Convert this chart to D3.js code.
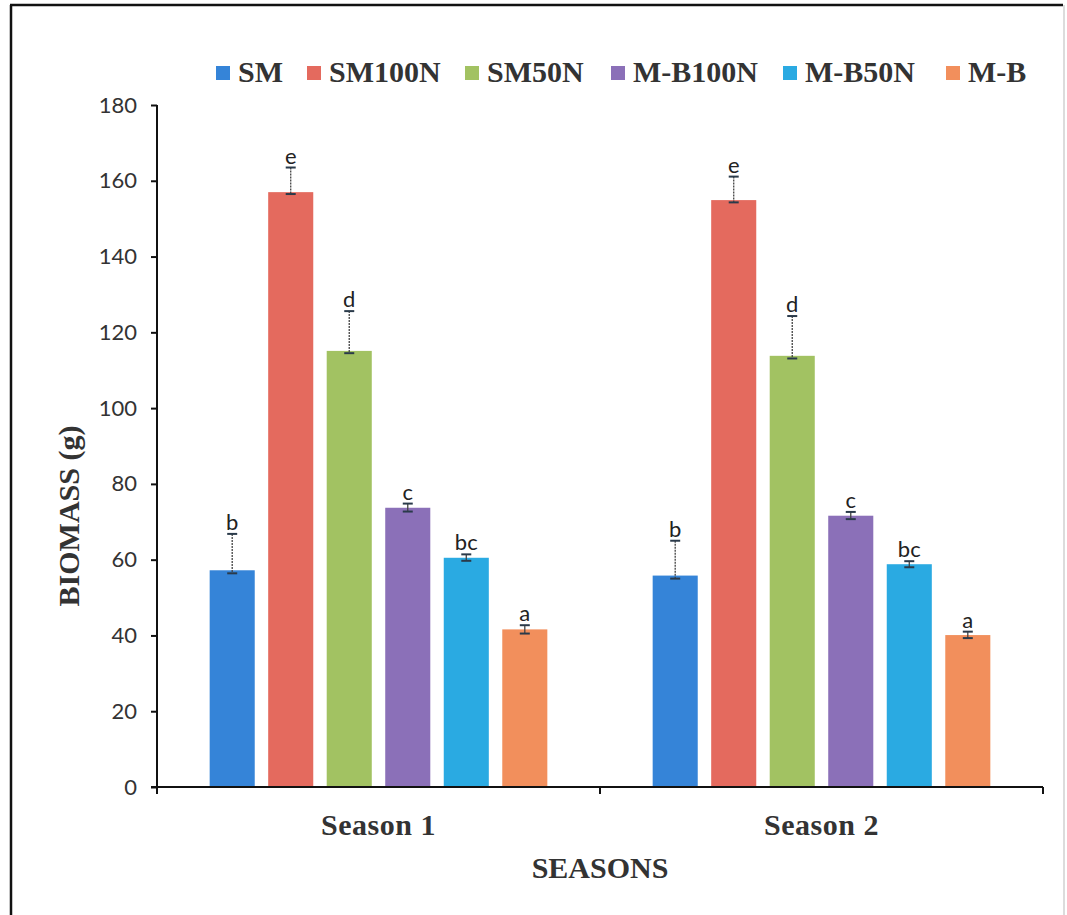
<!DOCTYPE html>
<html><head><meta charset="utf-8">
<script src="https://cdn.jsdelivr.net/npm/d3@7"></script>
<style>body{margin:0;background:#fff}svg{display:block}</style>
</head><body>
<svg id="c" width="1067" height="915"></svg>
<script>
const seasons = ["Season 1", "Season 2"];
const series = ["SM", "SM100N", "SM50N", "M-B100N", "M-B50N", "M-B"];
const colors = ["#3584D8", "#E46A5E", "#A2C262", "#8B70B8", "#2AAAE2", "#F28F5C"];
const season1 = [57.2, 157.0, 115.1, 73.7, 60.5, 41.6];
const season2 = [55.8, 154.9, 113.8, 71.6, 58.8, 40.1];
const errUp1 = [9.6, 6.5, 10.5, 1.1, 0.9, 1.1];
const errUp2 = [9.2, 6.2, 10.5, 1.0, 0.8, 0.9];
const errDown1 = [0.8, 0.5, 0.6, 1.0, 0.8, 1.1];
const errDown2 = [0.8, 0.6, 0.7, 0.9, 0.8, 0.8];
const letters = ["b", "e", "d", "c", "bc", "a"];
const yTicks = [0, 20, 40, 60, 80, 100, 120, 140, 160, 180];

const values = [season1, season2];
const errUp = [errUp1, errUp2];
const errDown = [errDown1, errDown2];

const svg = d3.select("#c");
const pLeft = 157, pRight = 1043, pTop = 105, pBottom = 787;
const serif = "'Liberation Serif', 'Times New Roman', serif";
const sans = "Lato, 'Open Sans', sans-serif";

// frame
svg.append("line").attr("x1", 11).attr("y1", 5).attr("x2", 11).attr("y2", 915).attr("stroke", "#111").attr("stroke-width", 2.5);
svg.append("line").attr("x1", 10).attr("y1", 5).attr("x2", 1063).attr("y2", 5).attr("stroke", "#111").attr("stroke-width", 2.5);
svg.append("line").attr("x1", 1064).attr("y1", 5).attr("x2", 1064).attr("y2", 915).attr("stroke", "#d0d0d0").attr("stroke-width", 1.5);

const y = d3.scaleLinear().domain([0, 180]).range([pBottom, pTop]);
const x0 = d3.scaleBand().domain(seasons).range([pLeft, pRight]).padding(0);
const x1 = d3.scaleBand().domain(series).range([0, x0.bandwidth()]).paddingInner(0.23).paddingOuter(0.9);

// bars
seasons.forEach((s, si) => {
  const g = svg.append("g").attr("transform", `translate(${x0(s)},0)`);
  series.forEach((k, i) => {
    const v = values[si][i];
    g.append("rect")
      .attr("x", x1(k)).attr("y", y(v))
      .attr("width", x1.bandwidth()).attr("height", y(0) - y(v))
      .attr("fill", colors[i]);
    const cx = x1(k) + x1.bandwidth() / 2;
    const yt = y(v + errUp[si][i]);
    const yb = y(v - errDown[si][i]);
    g.append("line").attr("x1", cx).attr("x2", cx).attr("y1", yt).attr("y2", yb)
      .attr("stroke", "#444").attr("stroke-width", 1.3).attr("stroke-dasharray", errUp[si][i] > 3 ? "2,1" : null);
    [yt, yb].forEach(yy => {
      g.append("line").attr("x1", cx - 5).attr("x2", cx + 5).attr("y1", yy).attr("y2", yy)
        .attr("stroke", "#2a3a4a").attr("stroke-width", 2);
    });
    g.append("text").attr("x", cx).attr("y", yt - 4)
      .attr("text-anchor", "middle")
      .attr("font-family", sans).attr("font-size", 22).attr("fill", "#222")
      .text(letters[i]);
  });
});

// y axis
const yAxis = d3.axisLeft(y).tickValues(yTicks).tickSize(6).tickSizeOuter(0).tickPadding(14);
const ya = svg.append("g").attr("transform", `translate(${pLeft},0)`).call(yAxis);
ya.select(".domain").attr("stroke", "#111").attr("stroke-width", 2).attr("d", `M0,${pTop}V${pBottom}`);
ya.selectAll(".tick line").attr("stroke", "#111").attr("stroke-width", 2);
ya.selectAll(".tick text").attr("font-family", sans).attr("font-size", 22).attr("fill", "#333");

// x axis
const xa = svg.append("g").attr("transform", `translate(0,${pBottom})`);
xa.append("line").attr("x1", pLeft - 6).attr("x2", pRight).attr("y1", 0).attr("y2", 0).attr("stroke", "#111").attr("stroke-width", 2);
const xb = [pLeft, x0("Season 2"), pRight];
xb.forEach(xx => xa.append("line").attr("x1", xx).attr("x2", xx).attr("y1", 0).attr("y2", 7).attr("stroke", "#111").attr("stroke-width", 2));
seasons.forEach(s => {
  xa.append("text").attr("x", x0(s) + x0.bandwidth() / 2).attr("y", 48)
    .attr("text-anchor", "middle").attr("font-family", serif).attr("font-weight", "bold")
    .attr("font-size", 30).attr("letter-spacing", 0.5).attr("fill", "#333").text(s);
});

// axis titles
svg.append("text").attr("x", (pLeft + pRight) / 2).attr("y", 878).attr("text-anchor", "middle")
  .attr("font-family", serif).attr("font-weight", "bold").attr("font-size", 30).attr("fill", "#333")
  .text("SEASONS");
svg.append("text").attr("transform", "translate(79,516) rotate(-90)").attr("text-anchor", "middle")
  .attr("font-family", serif).attr("font-weight", "bold").attr("font-size", 30).attr("fill", "#333")
  .text("BIOMASS (g)");

// legend
const legX = [216, 307, 465, 611, 783, 946];
series.forEach((k, i) => {
  svg.append("rect").attr("x", legX[i]).attr("y", 66).attr("width", 14).attr("height", 14).attr("fill", colors[i]);
  svg.append("text").attr("x", legX[i] + 22).attr("y", 82)
    .attr("font-family", serif).attr("font-weight", "bold").attr("font-size", 30).attr("fill", "#333")
    .text(k);
});
</script>
</body></html>
